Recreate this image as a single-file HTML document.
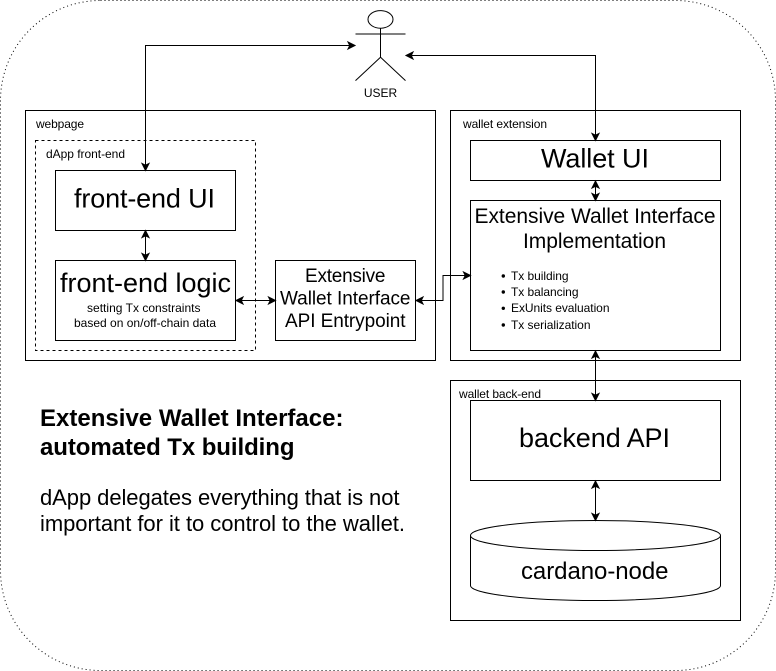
<!DOCTYPE html>
<html>
<head>
<meta charset="utf-8">
<style>
html,body{margin:0;padding:0;background:#fff;}
svg{display:block;}
text{font-family:"Liberation Sans",Arial,sans-serif;fill:#000;}
</style>
</head>
<body>
<svg width="776" height="671" viewBox="0 0 776 671" xmlns="http://www.w3.org/2000/svg">
<rect x="0.5" y="0.5" width="775" height="670" rx="100" ry="100" fill="#fff" stroke="#000" stroke-dasharray="1 3"/>
<g fill="none" stroke="#000">
<rect x="25.5" y="110.5" width="410" height="250"/>
<rect x="35.5" y="140.5" width="220" height="210" stroke-dasharray="3 3"/>
<rect x="55.5" y="170.5" width="180" height="60"/>
<rect x="55.5" y="260.5" width="180" height="80"/>
<rect x="275.5" y="260.5" width="140" height="80"/>
<rect x="450.5" y="110.5" width="290" height="250"/>
<rect x="470.5" y="140.5" width="250" height="40"/>
<rect x="470.5" y="200.5" width="250" height="150"/>
<rect x="450.5" y="380.5" width="290" height="240"/>
<rect x="470.5" y="400.5" width="250" height="80"/>
<path d="M470.5 535.5C470.5 527.2 526.5 520.5 595.5 520.5S720.5 527.2 720.5 535.5V585.5C720.5 593.8 664.5 600.5 595.5 600.5S470.5 593.8 470.5 585.5Z"/>
<path d="M470.5 535.5C470.5 543.8 526.5 550.5 595.5 550.5S720.5 543.8 720.5 535.5"/>
<ellipse cx="380.5" cy="19.4" rx="12.5" ry="8.8"/>
<path d="M380.5 28.2V57.2M355.5 34H405.5M380.5 57.2L355.5 80.6M380.5 57.2L405.5 80.6"/>
<path d="M355 45.5H145.5V170"/>
<path d="M406 55.5H595.5V140"/>
<path d="M145.5 231V260"/>
<path d="M236 300.5H275"/>
<path d="M416 300.5H443V275.5H470"/>
<path d="M595.5 181V200"/>
<path d="M595.5 351V400"/>
<path d="M595.5 481V520"/>
</g>
<g fill="#000" stroke="#000">
<path d="M355 45.500L348 42L349.750 45.500L348 49Z"/>
<path d="M145.500 170.500L142 163.500L145.500 165.250L149 163.500Z"/>
<path d="M406 55.500L413 52L411.250 55.500L413 59Z"/>
<path d="M595.500 140.500L592 133.500L595.500 135.250L599 133.500Z"/>
<path d="M145.500 230.500L142 237.500L145.500 235.750L149 237.500Z"/>
<path d="M145.500 260.500L142 253.500L145.500 255.250L149 253.500Z"/>
<path d="M236 300.500L243 297L241.250 300.500L243 304Z"/>
<path d="M275.500 300.500L268.500 297L270.250 300.500L268.500 304Z"/>
<path d="M416 300.500L423 297L421.250 300.500L423 304Z"/>
<path d="M470.500 275.500L463.500 272L465.250 275.500L463.500 279Z"/>
<path d="M595.500 181L592 188L595.500 186.250L599 188Z"/>
<path d="M595.500 200.500L592 193.500L595.500 195.250L599 193.500Z"/>
<path d="M595.500 351L592 358L595.500 356.250L599 358Z"/>
<path d="M595.500 400.500L592 393.500L595.500 395.250L599 393.500Z"/>
<path d="M595.500 481L592 488L595.500 486.250L599 488Z"/>
<path d="M595.500 520.500L592 513.500L595.500 515.250L599 513.500Z"/>
</g>
<text x="380.500" y="97" font-size="12" text-anchor="middle">USER</text>
<text x="36" y="128" font-size="12" textLength="48">webpage</text>
<text x="46" y="158" font-size="12" textLength="79">dApp front-end</text>
<text x="74" y="207.500" font-size="27" textLength="141">front-end UI</text>
<text x="60" y="292" font-size="27" textLength="171">front-end logic</text>
<text x="87" y="312" font-size="12" textLength="113.500">setting Tx constraints</text>
<text x="74" y="327" font-size="12" textLength="142">based on on/off-chain data</text>
<text x="305" y="282" font-size="19" textLength="80.500">Extensive</text>
<text x="280" y="304.500" font-size="19" textLength="130.500">Wallet Interface</text>
<text x="285" y="327" font-size="19" textLength="120.500">API Entrypoint</text>
<text x="463" y="128" font-size="12" textLength="84">wallet extension</text>
<text x="541" y="167.500" font-size="27" textLength="108">Wallet UI</text>
<text x="474.500" y="223" font-size="21" textLength="241">Extensive Wallet Interface</text>
<text x="523" y="248" font-size="21" textLength="143">Implementation</text>
<circle cx="503.300" cy="276" r="1.700" fill="#000"/>
<circle cx="503.300" cy="292" r="1.700" fill="#000"/>
<circle cx="503.300" cy="308.300" r="1.700" fill="#000"/>
<circle cx="503.300" cy="325" r="1.700" fill="#000"/>
<text x="511" y="280" font-size="12" textLength="57.500">Tx building</text>
<text x="511" y="296" font-size="12" textLength="67.500">Tx balancing</text>
<text x="511" y="312" font-size="12" textLength="98.500">ExUnits evaluation</text>
<text x="511" y="329" font-size="12" textLength="79.500">Tx serialization</text>
<text x="459" y="398" font-size="12" textLength="82">wallet back-end</text>
<text x="519" y="447" font-size="27" textLength="151">backend API</text>
<text x="521" y="579" font-size="24" textLength="147.500">cardano-node</text>
<text x="40" y="426" font-size="24" font-weight="bold" textLength="303.500">Extensive Wallet Interface:</text>
<text x="40" y="455" font-size="24" font-weight="bold" textLength="254.500">automated Tx building</text>
<text x="40" y="505" font-size="22" textLength="359.500">dApp delegates everything that is not</text>
<text x="40" y="531" font-size="22" textLength="365">important for it to control to the wallet.</text>
</svg>
</body>
</html>
